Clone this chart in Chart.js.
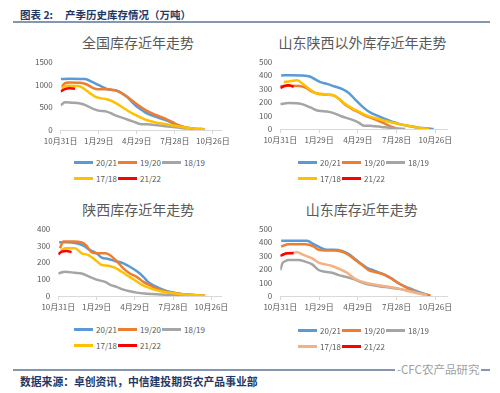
<!DOCTYPE html>
<html>
<head>
<meta charset="utf-8">
<script src="https://cdn.jsdelivr.net/npm/chart.js@4.4.0/dist/chart.umd.min.js"></script>
<style>
  body { margin: 0; background: #fff; font-family: "Noto Sans CJK SC", sans-serif; }
  #page { position: relative; width: 500px; height: 393px; overflow: hidden; background: #fff; }
  .hdr { position: absolute; color: #1f3864; font-weight: bold; white-space: nowrap; }
  .rule { position: absolute; height: 1.5px; background: #8497b0; }
  .ttl { position: absolute; width: 220px; text-align: center; font-size: 14px; line-height: 18px; color: #595959; white-space: nowrap; }
  canvas { position: absolute; }
  .legend { position: absolute; display: flex; flex-wrap: wrap; width: 140px; }
  .item { width: 44px; height: 16px; display: flex; align-items: center; font-size: 8px; color: #595959; white-space: nowrap; }
  .item i { display: inline-block; width: 19px; height: 3px; margin-right: 3px; }
</style>
</head>
<body>
<div id="page">
  <div class="hdr" style="left:20px;top:7px;font-size:10.5px;">图表 2:</div>
  <div class="hdr" style="left:65px;top:7px;font-size:10.5px;">产季历史库存情况（万吨）</div>
  <div class="rule" style="left:13px;top:21px;width:477px;"></div>

  <div class="ttl" style="left:28px;top:33px;">全国库存近年走势</div>
  <div class="ttl" style="left:252.5px;top:33px;">山东陕西以外库存近年走势</div>
  <div class="ttl" style="left:28.3px;top:200px;">陕西库存近年走势</div>
  <div class="ttl" style="left:251.7px;top:200px;">山东库存近年走势</div>

  <canvas id="c1" width="248" height="122" style="left:14px;top:28px;"></canvas>
  <canvas id="c2" width="225" height="121" style="left:250px;top:28px;"></canvas>
  <canvas id="c3" width="248" height="121" style="left:14px;top:195px;"></canvas>
  <canvas id="c4" width="225" height="121" style="left:250px;top:195px;"></canvas>

  <div class="legend" id="l1" style="left:74px;top:154px;"></div>
  <div class="legend" id="l2" style="left:298px;top:154px;"></div>
  <div class="legend" id="l3" style="left:74px;top:321px;"></div>
  <div class="legend" id="l4" style="left:298px;top:322px;"></div>

  <div class="rule" style="left:13px;top:369px;width:477px;"></div>
  <div class="hdr" style="left:395px;top:361px;font-size:11.5px;color:#a0a0a0;font-weight:normal;background:#fff;padding:0 2px;">-CFC农产品研究</div>
  <div class="hdr" style="left:20px;top:373px;font-size:10.8px;">数据来源：卓创资讯，中信建投期货农产品事业部</div>
</div>

<script>
// x axis: days counted from 10月31日, a label every 90 days
const xLabels = ['10月31日', '1月29日', '4月29日', '7月28日', '10月26日'];
const seasons = ['20/21', '19/20', '18/19', '17/18', '21/22'];

// 全国库存 (万吨) — [day, value]
const qg2021 = [[0,1120],[20,1125],[57,1120],[69,1080],[89,990],[97,955],[109,900],[121,880],[133,865],[144,810],[156,735],[168,625],[180,515],[192,440],[203,370],[219,310],[235,257],[251,205],[266,147],[282,88],[298,51],[314,30],[340,18]];
const qg1920 = [[3,950],[10,1030],[20,1045],[45,1040],[61,1005],[77,920],[89,895],[109,895],[128,870],[140,830],[156,735],[172,625],[188,515],[203,426],[219,353],[235,294],[251,235],[266,165],[282,96],[298,51],[314,30],[340,18]];
const qg1819 = [[0,540],[10,610],[25,600],[46,580],[61,537],[77,463],[89,426],[109,404],[124,345],[140,287],[156,235],[172,184],[188,132],[203,125],[223,110],[243,88],[266,66],[290,37],[300,28]];
const qg1718 = [[2,920],[14,970],[42,965],[53,920],[69,810],[81,735],[93,700],[109,676],[124,625],[140,537],[156,440],[172,353],[188,280],[203,220],[227,162],[251,125],[274,88],[298,51],[322,22],[340,15]];
const qg2122 = [[0,845],[10,897],[20,915],[34,905]];

// 山东陕西以外库存
const ws2021 = [[2,398],[25,400],[50,398],[70,388],[81,368],[93,348],[108,335],[124,318],[143,298],[159,268],[174,218],[190,168],[205,130],[229,93],[252,63],[275,38],[298,23],[321,10],[345,3],[356,0]];
const ws1920 = [[0,318],[20,322],[45,320],[60,305],[75,275],[90,260],[108,255],[124,250],[139,215],[151,180],[166,150],[182,125],[197,100],[221,70],[244,38],[260,15],[270,5]];
const ws1819 = [[0,185],[19,193],[50,185],[70,160],[89,135],[108,130],[124,118],[143,93],[163,73],[182,48],[194,25],[213,23],[236,15],[267,5],[290,0]];
const ws1718 = [[8,350],[23,355],[39,362],[54,330],[70,292],[81,268],[97,260],[112,255],[124,250],[139,218],[151,185],[166,155],[182,130],[197,105],[221,80],[244,60],[267,43],[290,28],[314,13],[337,3],[345,0]];
const ws2122 = [[0,305],[8,318],[19,325],[31,313]];

// 陕西库存
const sx2021 = [[2,320],[20,320],[43,314],[59,300],[74,274],[90,254],[102,228],[118,220],[133,208],[153,194],[168,174],[184,148],[200,114],[211,84],[231,54],[254,30],[278,16],[301,8],[324,4],[345,2]];
const sx1920 = [[4,284],[12,324],[35,324],[55,318],[66,300],[78,260],[90,254],[110,254],[121,244],[137,208],[153,164],[168,134],[184,114],[200,84],[215,64],[231,44],[247,30],[270,18],[294,10],[320,6],[345,2]];
const sx1819 = [[0,134],[16,144],[39,138],[55,134],[74,114],[94,94],[110,84],[121,68],[137,54],[153,38],[168,28],[184,20],[208,14],[231,10],[270,6],[301,2]];
const sx1718 = [[6,268],[16,284],[39,284],[55,254],[70,244],[90,208],[102,184],[118,180],[133,168],[149,144],[165,118],[180,94],[196,68],[212,50],[231,34],[254,22],[278,14],[301,8],[324,4],[345,2]];
const sx2122 = [[0,248],[8,264],[20,268],[31,260]];

// 山东库存
const sd2021 = [[2,410],[62,410],[77,385],[93,360],[108,343],[124,343],[143,335],[155,318],[170,285],[186,243],[201,210],[221,185],[240,160],[259,130],[275,93],[298,60],[321,30],[345,5]];
const sd1920 = [[2,368],[19,385],[58,385],[77,368],[89,343],[108,338],[128,338],[147,325],[159,305],[174,268],[190,230],[205,193],[225,175],[244,155],[263,118],[283,80],[306,43],[329,18],[349,3]];
const sd1819 = [[0,193],[5,243],[12,260],[19,268],[43,268],[58,255],[74,235],[89,193],[105,180],[120,173],[136,155],[151,143],[170,125],[186,105],[205,85],[229,73],[252,63],[275,53],[298,40],[321,23],[341,8]];
const sd1718 = [[5,310],[19,318],[39,325],[54,305],[74,280],[89,248],[105,235],[120,223],[139,198],[155,173],[170,135],[186,110],[205,93],[229,80],[252,68],[275,55],[298,35],[321,18],[341,5]];
const sd2122 = [[0,298],[8,310],[15,318],[31,318]];

const baseColors = ['#5b9bd5', '#ed7d31', '#a5a5a5', '#ffc000', '#ff0000'];
const sdColors = ['#5b9bd5', '#ed7d31', '#a5a5a5', '#f4b183', '#ff0000'];

const FONT = '"Noto Sans CJK SC", sans-serif';

function buildLegend(id, colors) {
  const el = document.getElementById(id);
  seasons.forEach((s, i) => {
    const d = document.createElement('div');
    d.className = 'item';
    d.innerHTML = '<i style="background:' + colors[i] + '"></i>' + s;
    el.appendChild(d);
  });
}

function makeChart(id, series, colors, yMax, yStep, xMax, yAxisW, padRight) {
  // reverse so the last season (21/22) is drawn on top, like Excel
  const datasets = series.map((pts, i) => ({
    label: seasons[i],
    data: pts.map(p => ({ x: p[0], y: p[1] })),
    borderColor: colors[i],
    backgroundColor: colors[i],
    borderWidth: 2.5,
    pointRadius: 0,
    cubicInterpolationMode: 'monotone',
    fill: false
  })).reverse();

  return new Chart(document.getElementById(id), {
    type: 'line',
    data: { datasets },
    options: {
      responsive: false,
      animation: false,
      layout: { padding: { left: 0, right: padRight, top: 33.7, bottom: 0 } },
      plugins: {
        legend: { display: false },
        tooltip: { enabled: false },
        title: { display: false }
      },
      scales: {
        x: {
          type: 'linear',
          min: 0,
          max: xMax,
          afterFit: s => { s.height = 20; },
          grid: { display: true, drawOnChartArea: false, drawTicks: true, tickLength: 4, color: '#d9d9d9' },
          border: { display: true, color: '#d9d9d9' },
          ticks: {
            stepSize: 90,
            includeBounds: false,
            autoSkip: false,
            maxRotation: 0,
            padding: 2,
            color: '#595959',
            font: { family: FONT, size: 8 },
            callback: v => (v % 90 === 0 && xLabels[v / 90]) ? xLabels[v / 90] : ''
          }
        },
        y: {
          min: 0,
          max: yMax,
          afterFit: s => { s.width = yAxisW; },
          grid: { display: false, drawTicks: false },
          border: { display: false },
          ticks: {
            stepSize: yStep,
            padding: 8,
            color: '#595959',
            font: { family: FONT, size: 8 },
            callback: v => String(v)
          }
        }
      }
    }
  });
}

makeChart('c1', [qg2021, qg1920, qg1819, qg1718, qg2122], baseColors, 1500, 500, 381, 46.7, 40.3);
makeChart('c2', [ws2021, ws1920, ws1819, ws1718, ws2122], baseColors, 500, 100, 387, 30.3, 28);
makeChart('c3', [sx2021, sx1920, sx1819, sx1718, sx2122], baseColors, 400, 100, 384, 44.3, 40.3);
makeChart('c4', [sd2021, sd1920, sd1819, sd1718, sd2122], sdColors, 500, 100, 387, 30.3, 28);

buildLegend('l1', baseColors);
buildLegend('l2', baseColors);
buildLegend('l3', baseColors);
buildLegend('l4', sdColors);
</script>
</body>
</html>
